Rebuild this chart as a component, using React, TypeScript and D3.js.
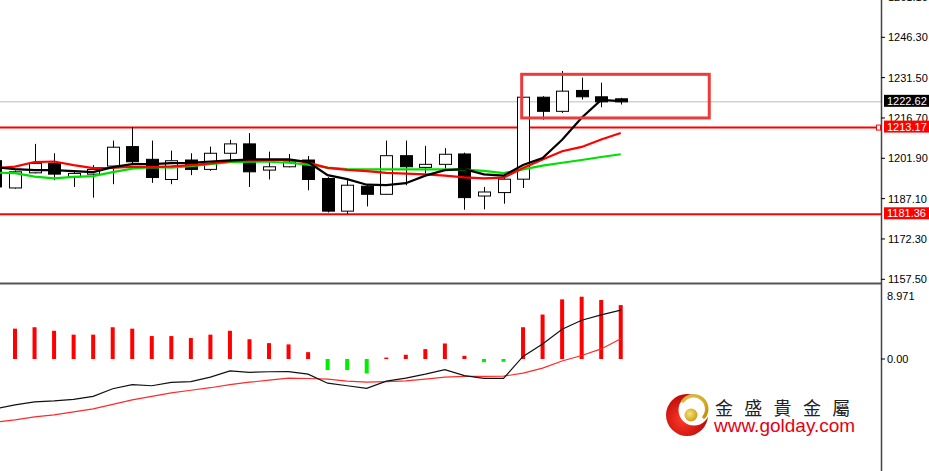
import React from 'react';
import * as d3 from 'd3';

// ---------- DATA ----------
const barIndex = d3.range(-1, 32);

const opens = [1201.01, 1191.02, 1196.57, 1200.05, 1195.09, 1196.09, 1199.05, 1206.19, 1201.53, 1194.13, 1201.27, 1197.83, 1203.75, 1207.19, 1197.57, 1198.79, 1201.27, 1194.5, 1182.51, 1191.65, 1188.69, 1202.86, 1198.57, 1199.68, 1203.49, 1188.06, 1189.32, 1194.24, 1224.32, 1219.14, 1226.8, 1224.47, 1223.73];
const highs = [1202.5, 1197.4, 1207.19, 1203.75, 1196.94, 1199.42, 1208.41, 1213.37, 1208.41, 1204.71, 1203.75, 1206.19, 1208.67, 1211.15, 1204.34, 1203.49, 1202.75, 1194.98, 1193.87, 1192.02, 1208.41, 1208.41, 1206.45, 1205.6, 1203.97, 1191.39, 1195.72, 1224.4, 1224.69, 1233.94, 1231.5, 1229.65, 1224.1];
const lows = [1190.5, 1190.73, 1196.35, 1193.87, 1191.39, 1187.47, 1192.39, 1199.42, 1192.87, 1192.39, 1195.72, 1197.31, 1200.64, 1191.39, 1194.13, 1198.57, 1190.17, 1182.03, 1181.55, 1184.25, 1188.5, 1192.02, 1196.35, 1197.57, 1183.03, 1183.14, 1185.25, 1191.02, 1216.07, 1218.55, 1223.47, 1220.62, 1221.62];
const closes = [1191.39, 1196.94, 1200.05, 1196.09, 1196.35, 1197.83, 1205.97, 1200.64, 1194.87, 1201.01, 1197.83, 1203.75, 1207.19, 1196.94, 1198.79, 1200.53, 1194.13, 1182.51, 1192.02, 1188.69, 1202.86, 1198.79, 1199.68, 1203.38, 1187.47, 1189.54, 1194.24, 1224.32, 1219.14, 1226.54, 1224.47, 1222.62, 1222.62];

const maBlack = [1198.68, 1197.94, 1197.57, 1197.57, 1197.2, 1196.83, 1198.68, 1199.79, 1199.79, 1200.16, 1200.27, 1200.72, 1201.16, 1201.46, 1201.53, 1201.53, 1200.53, 1195.72, 1194.24, 1192.21, 1192.09, 1192.76, 1195.54, 1197.57, 1197.94, 1195.98, 1195.54, 1199.42, 1202.01, 1208.67, 1216.81, 1223.3, 1222.9];
const maRed = [1198.31, 1198.87, 1200.53, 1200.72, 1199.42, 1198.31, 1198.38, 1198.79, 1198.68, 1198.94, 1199.42, 1200.05, 1200.83, 1201.09, 1201.27, 1201.27, 1200.35, 1198.38, 1197.64, 1197.2, 1196.57, 1196.28, 1196.02, 1195.54, 1194.87, 1194.5, 1194.8, 1198.31, 1201.46, 1204.49, 1206.08, 1208.82, 1211.19];
const maGreen = [1196.65, 1196.46, 1195.17, 1194.5, 1195.09, 1195.35, 1196.83, 1198.13, 1198.68, 1198.5, 1199.05, 1199.79, 1200.53, 1200.64, 1200.64, 1200.27, 1199.61, 1198.5, 1197.94, 1197.83, 1197.83, 1197.83, 1197.83, 1197.83, 1197.76, 1197.31, 1196.46, 1197.83, 1199.24, 1200.27, 1201.27, 1202.38, 1203.38];

const macdHist = [4.2, 4.3, 4.5, 4.0, 3.45, 3.45, 4.5, 4.3, 3.25, 3.25, 2.97, 3.45, 4.0, 2.8, 2.25, 2.07, 0.97, -1.57, -1.57, -2.05, 0.2, 0.6, 1.4, 2.2, 0.45, -0.45, -0.4, 4.5, 6.3, 8.45, 8.83, 8.36, 7.64];
const macdFast = [-7.07, -6.5, -6.07, -5.93, -5.71, -5.29, -4.21, -3.64, -3.79, -3.31, -3.21, -2.57, -1.69, -1.89, -1.81, -1.79, -2.14, -3.43, -3.79, -4.17, -3.14, -2.7, -2.14, -1.5, -2.36, -2.74, -2.74, 0.36, 2.14, 4.21, 5.5, 6.26, 6.93];
const macdSlow = [-8.93, -8.64, -8.21, -7.93, -7.5, -7.07, -6.43, -5.79, -5.29, -4.79, -4.43, -4.07, -3.64, -3.29, -3.0, -2.71, -2.76, -2.86, -3.14, -3.29, -3.21, -3.11, -2.86, -2.57, -2.46, -2.46, -2.44, -2.0, -1.29, -0.29, 0.5, 1.43, 2.86];

const priceTicks = [1157.5, 1172.3, 1187.1, 1201.9, 1216.7, 1231.5, 1246.3, 1261.1];
const macdTicks = [8.971, 0];
const macdTickLabels = ['8.971', '0.00'];
const levelLines = [1213.17, 1181.36];
const currentPrice = 1222.62;
const boxIndex = [25.93, 35.53];
const boxPrice = [1216.7, 1232.72];
const brandName = '金盛貴金屬';
const brandUrl = 'www.golday.com';

// ---------- LAYOUT ----------
const W = 929, H = 471;
const AXIS_X = 881;
const MAIN_BOTTOM = 282;
const SUB_TOP = 285;

const x = d3.scaleLinear().domain([-1, 31]).range([15 - 19.54, 15 + 19.54 * 31]);
const yP = d3.scaleLinear().domain([1157.5, 1246.3]).range([279.3, 37.3]);
const yM = d3.scaleLinear().domain([0, 8.971]).range([359, 295.7]);

const FONT = '"Liberation Sans", Arial, sans-serif';

export default function App() {
  const bars = barIndex.map((i, k) => ({ i, o: opens[k], h: highs[k], l: lows[k], c: closes[k] }));
  const lineP = (arr: number[]) =>
    d3.line<number>().x((_, k) => x(barIndex[k])).y((v) => yP(v))(arr) || '';
  const lineM = (arr: number[]) =>
    d3.line<number>().x((_, k) => x(barIndex[k])).y((v) => yM(v))(arr) || '';
  const bw = 12;

  return (
    <svg width={W} height={H} style={{ position: 'absolute', left: 0, top: 0, display: 'block', background: '#fff' }}>
      <defs>
        <clipPath id="mainClip"><rect x={0} y={0} width={AXIS_X} height={MAIN_BOTTOM} /></clipPath>
        <clipPath id="subClip"><rect x={0} y={SUB_TOP} width={AXIS_X} height={H - SUB_TOP} /></clipPath>
        <radialGradient id="logoRed" cx="40%" cy="60%" r="70%">
          <stop offset="0%" stopColor="#ff3a2a" />
          <stop offset="100%" stopColor="#b00000" />
        </radialGradient>
        <radialGradient id="logoGold" cx="40%" cy="40%" r="70%">
          <stop offset="0%" stopColor="#f6e27a" />
          <stop offset="100%" stopColor="#c8960c" />
        </radialGradient>
      </defs>
      <rect x={0} y={0} width={W} height={H} fill="#fff" />

      {/* main panel */}
      <g clipPath="url(#mainClip)">
        <line x1={0} x2={AXIS_X} y1={yP(currentPrice)} y2={yP(currentPrice)} stroke="#bdbdbd" strokeWidth={1} />
        {levelLines.map((v) => (
          <line key={v} x1={0} x2={AXIS_X} y1={yP(v)} y2={yP(v)} stroke="#ff0000" strokeWidth={2} />
        ))}
        {bars.map((b) => {
          const cx = Math.round(x(b.i)) + 0.5;
          const top = yP(Math.max(b.o, b.c));
          const bot = yP(Math.min(b.o, b.c));
          const bull = b.c >= b.o;
          return (
            <g key={b.i}>
              <line x1={cx} x2={cx} y1={yP(b.h)} y2={yP(b.l)} stroke="#000" strokeWidth={1} />
              <rect x={cx - bw / 2} y={top} width={bw} height={Math.max(1, bot - top)}
                fill={bull ? '#fff' : '#000'} stroke="#000" strokeWidth={1} />
            </g>
          );
        })}
        <path d={lineP(maGreen)} fill="none" stroke="#00e000" strokeWidth={2.2} />
        <path d={lineP(maRed)} fill="none" stroke="#ff0000" strokeWidth={2.2} />
        <path d={lineP(maBlack)} fill="none" stroke="#000" strokeWidth={2.2} />
        <rect x={x(boxIndex[0])} y={yP(boxPrice[1])} width={x(boxIndex[1]) - x(boxIndex[0])}
          height={yP(boxPrice[0]) - yP(boxPrice[1])} fill="none" stroke="#ec3b3b" strokeWidth={3} />
        <rect x={876.5} y={yP(levelLines[0]) - 2.5} width={4} height={5} fill="#fff" stroke="#ff0000" strokeWidth={1} />
      </g>

      {/* panel separator */}
      <line x1={0} x2={AXIS_X} y1={283.5} y2={283.5} stroke="#555" strokeWidth={2} />

      {/* MACD panel */}
      <g clipPath="url(#subClip)">
        {barIndex.map((i, k) => {
          const v = macdHist[k];
          const y0 = yM(0), y1 = yM(v);
          return (
            <rect key={i} x={x(i) - 2} y={Math.min(y0, y1)} width={4} height={Math.max(1.5, Math.abs(y1 - y0))}
              fill={v >= 0 ? '#ff0000' : '#00ee00'} />
          );
        })}
        <path d={lineM(macdSlow)} fill="none" stroke="#ff2a2a" strokeWidth={1.2} />
        <path d={lineM(macdFast)} fill="none" stroke="#111" strokeWidth={1.2} />
      </g>

      {/* right axis */}
      <line x1={AXIS_X + 0.5} x2={AXIS_X + 0.5} y1={0} y2={H} stroke="#444" strokeWidth={1.5} />
      {priceTicks.map((v) => (
        <g key={v}>
          <line x1={AXIS_X} x2={AXIS_X + 4} y1={yP(v)} y2={yP(v)} stroke="#000" />
          <text x={888} y={yP(v) + 4} fontFamily={FONT} fontSize={11} fill="#000">{v.toFixed(2)}</text>
        </g>
      ))}
      {macdTicks.map((v, k) => (
        <g key={v}>
          {k > 0 && <line x1={AXIS_X} x2={AXIS_X + 4} y1={yM(v)} y2={yM(v)} stroke="#000" />}
          <text x={887} y={yM(v) + 4} fontFamily={FONT} fontSize={11} fill="#000">{macdTickLabels[k]}</text>
        </g>
      ))}
      {/* price labels */}
      <rect x={884} y={yP(currentPrice) - 7} width={50} height={12} fill="#000" />
      <text x={887} y={yP(currentPrice) + 3} fontFamily={FONT} fontSize={11} fill="#fff">{currentPrice.toFixed(2)}</text>
      {levelLines.map((v) => (
        <g key={v}>
          <rect x={884} y={yP(v) - 7} width={50} height={12} fill="#ff0000" />
          <text x={887} y={yP(v) + 3} fontFamily={FONT} fontSize={11} fill="#fff">{v.toFixed(2)}</text>
        </g>
      ))}

      {/* logo */}
      <g>
        <circle cx={687} cy={415} r={21} fill="url(#logoRed)" />
        <circle cx={694} cy={410} r={15.5} fill="#fff" />
        <path d="M 683 401 A 12 12 0 0 1 704 417" fill="none" stroke="url(#logoGold)" strokeWidth={3.5} strokeLinecap="round" />
        <circle cx={691} cy={415} r={6.5} fill="url(#logoGold)" />
        <text x={715} y={415} fontFamily='"Noto Sans CJK TC", "Noto Sans CJK SC", sans-serif' fontSize={18}
          letterSpacing={11.3} fill="#222">{brandName}</text>
        <text x={714} y={432} fontFamily={FONT} fontSize={19} fill="#e60012">{brandUrl}</text>
      </g>
    </svg>
  );
}
